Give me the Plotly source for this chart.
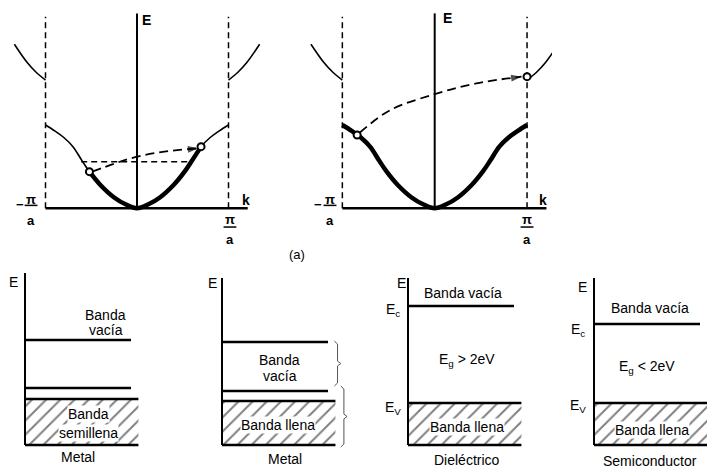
import plotly.graph_objects as go

# ---------------- data: top diagrams (k in units of pi/a, E normalised) ----------------
band_k_half = [0.00, 0.12, 0.25, 0.40, 0.52, 0.60, 0.70, 0.80, 0.90, 1.00]
band_E_half = [0.00, 0.045, 0.13, 0.28, 0.44, 0.57, 0.74, 0.85, 0.93, 1.00]
upper_k_half = [1.00, 1.10, 1.20, 1.34]
upper_E_half = [1.54, 1.63, 1.75, 1.97]
zone_edges = [-1.0, 1.0]
E_axis_top = 2.34
dashed_top = 2.30
k_axis_end = 1.21

# metal (left top)
metal_occ = [-0.52, 0.70]          # occupied k-range (bold)
metal_pts_k = [-0.52, 0.70]
metal_pts_E = [0.44, 0.74]
metal_fermi_E = 0.56
metal_fermi_k = [-0.61, 0.60]
metal_arrow_k = [-0.49, -0.25, 0.00, 0.30, 0.67]
metal_arrow_E = [0.44, 0.535, 0.62, 0.68, 0.72]

# semiconductor (right top)
semi_pts_k = [-0.84, 1.00]
semi_pts_E = [0.88, 1.58]
semi_arrow_k = [-0.81, -0.48, 0.00, 0.45, 0.94]
semi_arrow_E = [0.91, 1.18, 1.37, 1.50, 1.58]

# ---------------- data: bottom diagrams (arbitrary energy units) ----------------
bottom_axis_top = [8.6, 8.35, 8.35, 8.35]
bottom_lines = [[5.25, 2.85], [5.15, 2.70], [6.95], [6.05]]
bottom_fill_top = [2.30, 2.20, 2.10, 2.10]
line_len = 1.0
fill_len = 1.07
brace_spans = [[5.2, 2.95], [2.95, -0.1]]
brace_x = [1.06, 1.12]

BLACK = "black"
FONT = "Liberation Sans, Arial, sans-serif"

fig = go.Figure()


def mirror(kh, Eh):
    k = [-v for v in reversed(kh)] + kh[1:]
    E = list(reversed(Eh)) + Eh[1:]
    return k, E


band_k, band_E = mirror(band_k_half, band_E_half)


def line(x, y, xa, ya, width=1.5, dash=None, shape="linear", color=BLACK):
    fig.add_trace(go.Scatter(x=x, y=y, xaxis=xa, yaxis=ya, mode="lines",
                             line=dict(color=color, width=width, dash=dash, shape=shape),
                             hoverinfo="skip", showlegend=False))


def top_panel(xa, bold_range, pts_k, pts_E, arrow_k, arrow_E, fermi=None):
    for ke in zone_edges:
        line([ke, ke], [0, dashed_top], xa, "y", width=1.5, dash="6px,4px")
    line([0, 0], [0, E_axis_top], xa, "y", width=2)
    line([zone_edges[0], k_axis_end], [0, 0], xa, "y", width=2.5)
    line(band_k, band_E, xa, "y", width=1.6, shape="spline")
    bk = [k for k in band_k if bold_range[0] <= k <= bold_range[1]]
    bE = [E for k, E in zip(band_k, band_E) if bold_range[0] <= k <= bold_range[1]]
    line(bk, bE, xa, "y", width=4.5, shape="spline")
    line([-k for k in upper_k_half], upper_E_half, xa, "y", width=1.6, shape="spline")
    line(upper_k_half, upper_E_half, xa, "y", width=1.6, shape="spline")
    if fermi is not None:
        line(fermi[1], [fermi[0]] * 2, xa, "y", width=1.5, dash="6px,4px")
    n = len(arrow_k)
    fig.add_trace(go.Scatter(x=arrow_k, y=arrow_E, xaxis=xa, yaxis="y", mode="lines+markers",
                             line=dict(color=BLACK, width=1.8, dash="9px,5px", shape="spline"),
                             marker=dict(symbol="arrow", size=[0] * (n - 1) + [11],
                                         angleref="previous", color=BLACK, line=dict(width=0)),
                             hoverinfo="skip", showlegend=False))
    fig.add_trace(go.Scatter(x=pts_k, y=pts_E, xaxis=xa, yaxis="y", mode="markers",
                             marker=dict(symbol="circle", size=7, color="white",
                                         line=dict(color=BLACK, width=2)),
                             hoverinfo="skip", showlegend=False))


top_panel("x", metal_occ, metal_pts_k, metal_pts_E, metal_arrow_k, metal_arrow_E,
          fermi=(metal_fermi_E, metal_fermi_k))
top_panel("x2", [-1.0, 1.0], semi_pts_k, semi_pts_E, semi_arrow_k, semi_arrow_E)

# bottom panels
bx = ["x3", "x4", "x5", "x6"]
for i, xa in enumerate(bx):
    ft = bottom_fill_top[i]
    fig.add_trace(go.Scatter(x=[0, fill_len, fill_len, 0, 0], y=[0, 0, ft, ft, 0],
                             xaxis=xa, yaxis="y2", mode="lines", fill="toself",
                             fillcolor="white", line=dict(width=0),
                             fillpattern=dict(shape="/", size=10, solidity=0.2,
                                              fgcolor=BLACK, bgcolor="white"),
                             hoverinfo="skip", showlegend=False))
    line([0, fill_len], [ft, ft], xa, "y2", width=2.6)
    line([0, fill_len], [0, 0], xa, "y2", width=2.6)
    line([0, 0], [0, bottom_axis_top[i]], xa, "y2", width=2)
    for L in bottom_lines[i]:
        line([0, line_len], [L, L], xa, "y2", width=2.4)

# braces on second metal panel
for (top, bot), x0 in zip(brace_spans, brace_x):
    mid = (top + bot) / 2
    d = 0.03
    line([x0, x0 + d, x0 + d, x0 + 2 * d, x0 + d, x0 + d, x0],
         [top, top - 0.15, mid + 0.12, mid, mid - 0.12, bot + 0.15, bot],
         "x4", "y2", width=1, color="#555")

ann = []


def txt(x, y, s, xr, yr, size=14, bg=None, xanchor="center"):
    ann.append(dict(x=x, y=y, xref=xr, yref=yr, text=s, showarrow=False,
                    xanchor=xanchor, yanchor="middle",
                    font=dict(family=FONT, size=size, color=BLACK),
                    bgcolor=bg, borderpad=0))


# top labels
for xa, eE, kk, lk, rk in [("x", (0.10, 2.26), (1.19, 0.10), -1.158, 1.016),
                          ("x2", (0.135, 2.28), (1.17, 0.10), -1.134, 1.0)]:
    txt(eE[0], eE[1], "<b>E</b>", xa, "y", size=14)
    txt(kk[0], kk[1], "<b>k</b>", xa, "y", size=14)
    txt(lk, 0.11, "<b>π</b>", xa, "y", size=13)
    txt(lk, -0.15, "<b>a</b>", xa, "y", size=13)
    txt(lk - 0.125, 0.05, "<b>−</b>", xa, "y", size=13)
    txt(rk, -0.13, "<b>π</b>", xa, "y", size=13)
    txt(rk, -0.38, "<b>a</b>", xa, "y", size=13)
    line([lk - 0.07, lk + 0.07], [0.035, 0.035], xa, "y", width=1.5)
    line([rk - 0.07, rk + 0.07], [-0.225, -0.225], xa, "y", width=1.5)

ann.append(dict(x=297 / 707, y=1 - 255 / 468, xref="paper", yref="paper", text="(a)",
                showarrow=False, font=dict(family=FONT, size=13, color=BLACK)))

# bottom labels
txt(-0.11, 8.15, "E", "x3", "y2")
txt(0.764, 6.5, "Banda", "x3", "y2")
txt(0.764, 5.75, "vacía", "x3", "y2")
txt(0.60, 1.55, "Banda", "x3", "y2", bg="white")
txt(0.60, 0.60, "semillena", "x3", "y2", bg="white")
txt(0.50, -0.60, "Metal", "x3", "y2")

txt(-0.09, 8.1, "E", "x4", "y2")
txt(0.547, 4.25, "Banda", "x4", "y2")
txt(0.547, 3.45, "vacía", "x4", "y2")
txt(0.53, 1.0, "Banda llena", "x4", "y2", bg="white")
txt(0.59, -0.72, "Metal", "x4", "y2")

txt(-0.06, 8.1, "E", "x5", "y2")
txt(-0.14, 6.75, "E<sub>c</sub>", "x5", "y2")
txt(-0.14, 1.85, "E<sub>V</sub>", "x5", "y2")
txt(0.52, 7.6, "Banda vacía", "x5", "y2")
txt(0.557, 4.25, "E<sub>g</sub> &gt; 2eV", "x5", "y2")
txt(0.557, 0.9, "Banda llena", "x5", "y2", bg="white")
txt(0.557, -0.75, "Dieléctrico", "x5", "y2")

txt(-0.104, 7.9, "E", "x6", "y2")
txt(-0.15, 5.75, "E<sub>c</sub>", "x6", "y2")
txt(-0.15, 1.95, "E<sub>V</sub>", "x6", "y2")
txt(0.53, 6.85, "Banda vacía", "x6", "y2")
txt(0.50, 3.9, "E<sub>g</sub> &lt; 2eV", "x6", "y2")
txt(0.547, 0.75, "Banda llena", "x6", "y2", bg="white")
txt(0.528, -0.78, "Semiconductor", "x6", "y2")

hidden = dict(visible=False, showgrid=False, zeroline=False, fixedrange=True)
fig.update_layout(
    width=707, height=468, margin=dict(l=0, r=0, t=0, b=0),
    paper_bgcolor="white", plot_bgcolor="rgba(0,0,0,0)",
    showlegend=False, annotations=ann,
    xaxis=dict(domain=[0, 290 / 707], range=[-137 / 91.5, 153 / 91.5], anchor="y", **hidden),
    xaxis2=dict(domain=[300 / 707, 552 / 707], range=[(300 - 434.7) / 92.35, (552 - 434.7) / 92.35],
                anchor="y", **hidden),
    yaxis=dict(domain=[1 - 250 / 468, 1], range=[(208.3 - 250) / 83.3, 208.3 / 83.3], anchor="x", **hidden),
    xaxis3=dict(domain=[0, 180 / 707], range=[-25 / 106, 155 / 106], anchor="y2", **hidden),
    xaxis4=dict(domain=[180 / 707, 370 / 707], range=[-42 / 106, 148 / 106], anchor="y2", **hidden),
    xaxis5=dict(domain=[370 / 707, 555 / 707], range=[-38 / 106, 147 / 106], anchor="y2", **hidden),
    xaxis6=dict(domain=[555 / 707, 1], range=[-39 / 106, 113 / 106], anchor="y2", **hidden),
    yaxis2=dict(domain=[0, 1 - 262 / 468], range=[-23 / 20, 183 / 20], anchor="x3", **hidden),
)

fig.write_html("out.html")
